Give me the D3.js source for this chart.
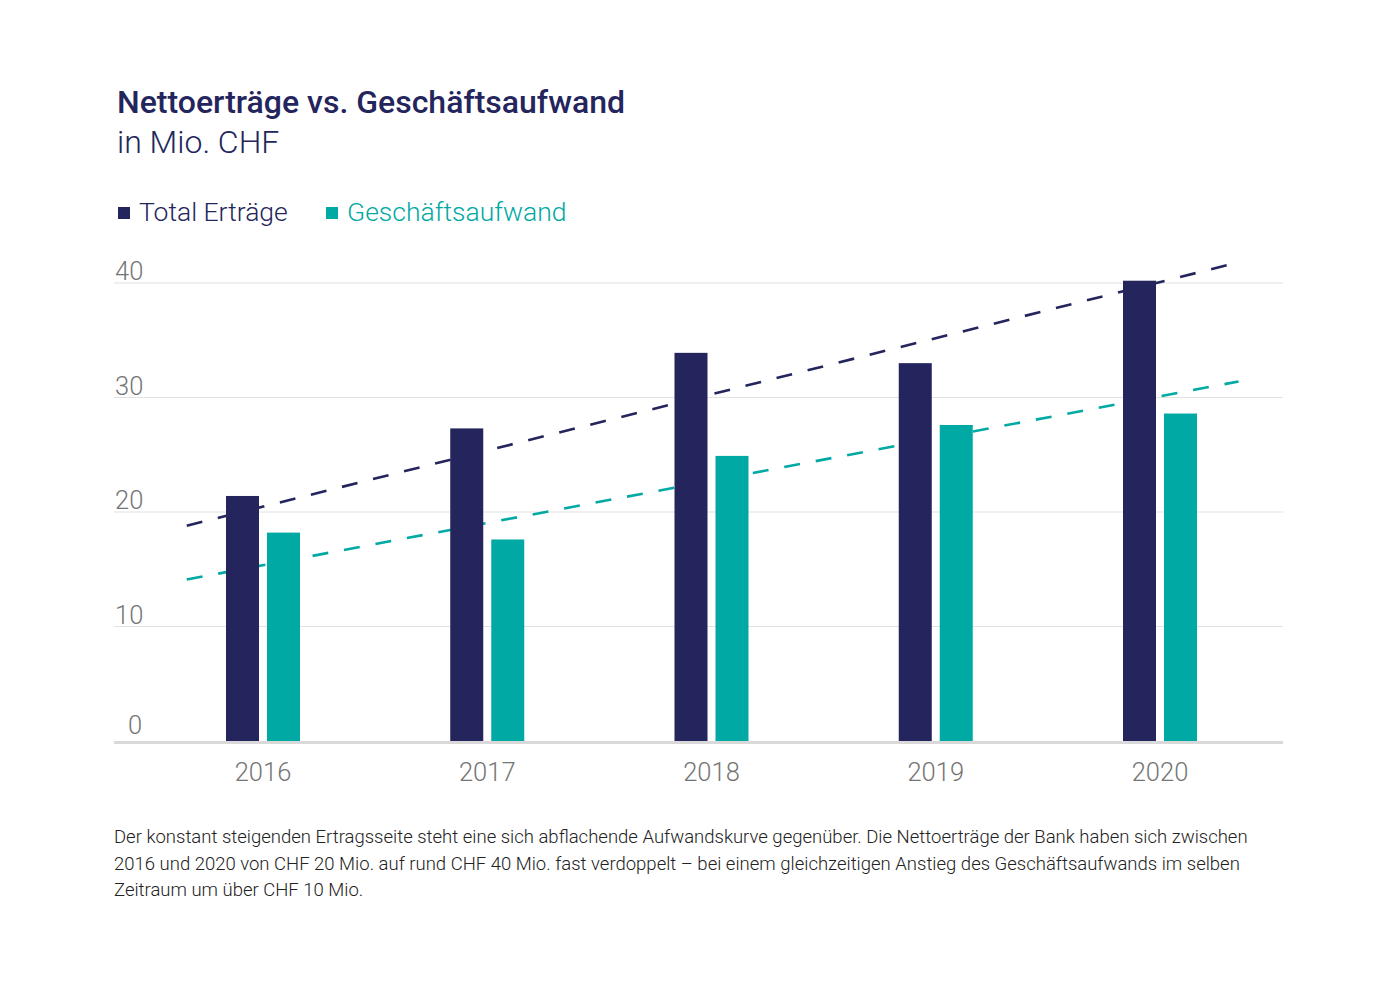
<!DOCTYPE html>
<html>
<head>
<meta charset="utf-8">
<script src="https://cdn.jsdelivr.net/npm/d3@7"></script>
<style>
  body { margin: 0; background: #fff; }
  svg text { font-family: Roboto, "Noto Sans", sans-serif; }
</style>
</head>
<body>
<svg id="chart"></svg>
<script>
// data
const years = ["2016", "2017", "2018", "2019", "2020"];
const totalErtraege = [21.4, 27.3, 33.9, 33.0, 40.2];
const geschaeftsaufwand = [18.2, 17.6, 24.9, 27.6, 28.6];
const yTicks = [0, 10, 20, 30, 40];
// trend lines: [position in years, value]
const trendErtraege = [[-0.34, 18.8], [4.35, 41.8]];
const trendAufwand = [[-0.34, 14.1], [4.35, 31.4]];
const footnote = [
  "Der konstant steigenden Ertragsseite steht eine sich abflachende Aufwandskurve gegenüber. Die Nettoerträge der Bank haben sich zwischen",
  "2016 und 2020 von CHF 20 Mio. auf rund CHF 40 Mio. fast verdoppelt – bei einem gleichzeitigen Anstieg des Geschäftsaufwands im selben",
  "Zeitraum um über CHF 10 Mio."
];

const width = 1400, height = 990;
const dark = "#23255c", teal = "#00a9a3";
const plotLeft = 114, plotRight = 1283, plotTop = 283, plotBottom = 741;

const svg = d3.select("#chart").attr("width", width).attr("height", height);

// title
svg.append("text").attr("x", 117).attr("y", 113)
  .attr("fill", dark).style("font-size", "32px").style("font-weight", 500)
  .text("Nettoerträge vs. Geschäftsaufwand");
svg.append("text").attr("x", 117).attr("y", 153)
  .attr("fill", dark).style("font-size", "32px").style("font-weight", 300)
  .text("in Mio. CHF");

// legend
const legend = [["Total Erträge", dark, 118], ["Geschäftsaufwand", teal, 326]];
legend.forEach(([label, c, lx]) => {
  svg.append("rect").attr("x", lx).attr("y", 207).attr("width", 12).attr("height", 12).attr("fill", c);
  svg.append("text").attr("x", lx + 21).attr("y", 221)
    .attr("fill", c).style("font-size", "26.5px").style("font-weight", 300)
    .text(label);
});

const y = d3.scaleLinear().domain([0, 40]).range([plotBottom, plotTop]);
const x = d3.scalePoint().domain(years).range([263, 1160]);
const xIdx = d3.scaleLinear().domain([0, 4]).range([x(years[0]), x(years[4])]);
const barW = 33, gap = 8;

// gridlines + y labels
svg.append("g").selectAll("line").data(yTicks.filter(d => d > 0)).join("line")
  .attr("x1", plotLeft).attr("x2", plotRight)
  .attr("y1", d => y(d)).attr("y2", d => y(d))
  .attr("stroke", "#e2e2e2").attr("stroke-width", 1.2);
svg.append("g").selectAll("text").data(yTicks).join("text")
  .attr("x", d => d === 0 ? 128 : 115).attr("y", d => y(d) - (d === 0 ? 7 : 3))
  .attr("fill", "#757575").style("font-size", "25.5px").style("font-weight", 300)
  .text(d => d);

// trend lines (behind bars)
const line = d3.line().x(d => xIdx(d[0])).y(d => y(d[1]));
[[trendErtraege, dark], [trendAufwand, teal]].forEach(([t, c]) => {
  svg.append("path").attr("d", line(t)).attr("fill", "none")
    .attr("stroke", c).attr("stroke-width", 2.6).attr("stroke-dasharray", "16,16");
});

// bars
const g = svg.append("g");
g.selectAll(".b1").data(years).join("rect").attr("class", "b1")
  .attr("x", d => x(d) - gap / 2 - barW)
  .attr("width", barW)
  .attr("y", (d, i) => y(totalErtraege[i]))
  .attr("height", (d, i) => y(0) - y(totalErtraege[i]))
  .attr("fill", dark);
g.selectAll(".b2").data(years).join("rect").attr("class", "b2")
  .attr("x", d => x(d) + gap / 2)
  .attr("width", barW)
  .attr("y", (d, i) => y(geschaeftsaufwand[i]))
  .attr("height", (d, i) => y(0) - y(geschaeftsaufwand[i]))
  .attr("fill", teal);

// baseline
svg.append("line").attr("x1", plotLeft).attr("x2", plotRight)
  .attr("y1", y(0) + 1.5).attr("y2", y(0) + 1.5)
  .attr("stroke", "#d9d9d9").attr("stroke-width", 3);

// x labels
svg.append("g").selectAll("text").data(years).join("text")
  .attr("x", d => x(d)).attr("y", 781)
  .attr("text-anchor", "middle")
  .attr("fill", "#757575").style("font-size", "25.5px").style("font-weight", 300)
  .text(d => d);

// footnote
svg.append("g").selectAll("text").data(footnote).join("text")
  .attr("x", 114).attr("y", (d, i) => 843 + i * 26.5)
  .attr("fill", "#222").style("font-size", "18.5px").style("font-weight", 300)
  .text(d => d);
</script>
</body>
</html>
